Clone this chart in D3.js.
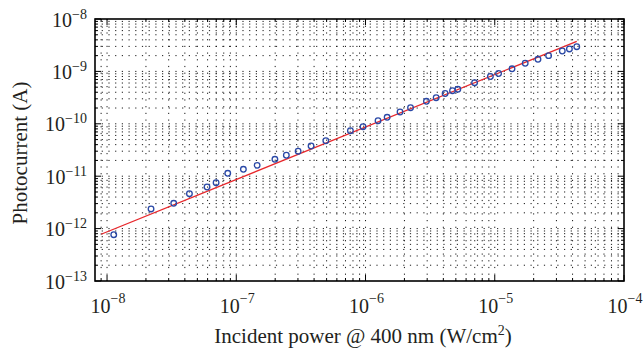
<!DOCTYPE html>
<html><head><meta charset="utf-8">
<script src="https://cdn.jsdelivr.net/npm/d3@7"></script>
<style>body{margin:0;background:#fff}svg{display:block}text{font-family:"Liberation Serif","Times New Roman",serif;fill:#231f20}</style>
</head><body><svg id="c" width="643" height="351"></svg>
<script>
// Data
const powerW = [1.127e-8,2.19e-8,3.28e-8,4.34e-8,5.94e-8,6.98e-8,8.59e-8,1.135e-7,1.45e-7,1.99e-7,2.44e-7,3.01e-7,3.79e-7,4.93e-7,7.64e-7,9.57e-7,1.25e-6,1.47e-6,1.85e-6,2.23e-6,2.96e-6,3.52e-6,4.13e-6,4.71e-6,5.18e-6,6.98e-6,9.25e-6,1.07e-5,1.36e-5,1.72e-5,2.16e-5,2.61e-5,3.33e-5,3.78e-5,4.31e-5];
const currentA = [7.65e-13,2.37e-12,3.04e-12,4.63e-12,6.22e-12,7.52e-12,1.135e-11,1.355e-11,1.61e-11,2.10e-11,2.51e-11,2.99e-11,3.77e-11,4.75e-11,7.38e-11,8.81e-11,1.146e-10,1.33e-10,1.68e-10,2.03e-10,2.69e-10,3.15e-10,3.79e-10,4.28e-10,4.55e-10,6.08e-10,8.0e-10,9.12e-10,1.12e-9,1.43e-9,1.70e-9,2.0e-9,2.45e-9,2.68e-9,2.96e-9];
const fitPower = [9.0e-9, 4.31e-5];
const fitCurrent = [7.8e-13, 3.75e-9];
const xTickExps = [-8,-7,-6,-5,-4];
const yTickExps = [-13,-12,-11,-10,-9,-8];
const xDomain = [8.07e-9, 1e-4];
const yDomain = [1e-13, 1e-8];

const L=95,R=624,T=19,B=281;
const svg=d3.select("#c");
const x=d3.scaleLog().domain(xDomain).range([L,R]);
const y=d3.scaleLog().domain(yDomain).range([B,T]);

function logTicks(dom){
  const out=[];
  const lo=Math.floor(Math.log10(dom[0])), hi=Math.ceil(Math.log10(dom[1]));
  for(let e=lo;e<=hi;e++) for(let m=1;m<=9;m++){
    const v=m*Math.pow(10,e);
    if(v>=dom[0]*0.9999 && v<=dom[1]*1.0001) out.push({v,major:m===1});
  }
  return out;
}
const xt=logTicks(xDomain), yt=logTicks(yDomain);

// grid (dotted)
const g=svg.append("g").attr("stroke","#000").attr("stroke-width",0.9).attr("stroke-dasharray","1.2,5.5");
g.selectAll("line.vx").data(xt.filter(d=>x(d.v)>L+1&&x(d.v)<R-1)).join("line")
 .attr("x1",d=>x(d.v)).attr("x2",d=>x(d.v)).attr("y1",T).attr("y2",B);
g.selectAll("line.hy").data(yt.filter(d=>y(d.v)>T+1&&y(d.v)<B-1)).join("line")
 .attr("y1",d=>y(d.v)).attr("y2",d=>y(d.v)).attr("x1",L).attr("x2",R);

// ticks inside, all sides
const tk=svg.append("g").attr("stroke","#000").attr("stroke-width",1);
xt.forEach(d=>{const len=d.major?6:3;const px=x(d.v);
  tk.append("line").attr("x1",px).attr("x2",px).attr("y1",B).attr("y2",B-len);
  tk.append("line").attr("x1",px).attr("x2",px).attr("y1",T).attr("y2",T+len);});
yt.forEach(d=>{const len=d.major?6:3;const py=y(d.v);
  tk.append("line").attr("y1",py).attr("y2",py).attr("x1",L).attr("x2",L+len);
  tk.append("line").attr("y1",py).attr("y2",py).attr("x1",R).attr("x2",R-len);});

// frame
svg.append("rect").attr("x",L).attr("y",T).attr("width",R-L).attr("height",B-T)
 .attr("fill","none").attr("stroke","#000").attr("stroke-width",1.6);

// fit line
svg.append("path").datum(fitPower.map((p,i)=>[p,fitCurrent[i]]))
 .attr("d",d3.line().x(d=>x(d[0])).y(d=>y(d[1])))
 .attr("stroke","#e8282c").attr("stroke-width",1.3).attr("fill","none");

// points
svg.append("g").selectAll("circle").data(powerW.map((p,i)=>[p,currentA[i]])).join("circle")
 .attr("cx",d=>x(d[0])).attr("cy",d=>y(d[1])).attr("r",2.8)
 .attr("fill","none").attr("stroke","#2a48a6").attr("stroke-width",1.3);

// tick labels
xTickExps.forEach(e=>{
  const t=svg.append("text").attr("x",x(Math.pow(10,e))+1).attr("y",B+32).attr("text-anchor","middle").attr("font-size",20);
  t.append("tspan").text("10");
  t.append("tspan").attr("font-size",14).attr("dy",-10).text("\u2212"+(-e));
});
yTickExps.forEach(e=>{
  const t=svg.append("text").attr("x",87).attr("y",y(Math.pow(10,e))+7.5).attr("text-anchor","end").attr("font-size",20);
  t.append("tspan").text("10");
  t.append("tspan").attr("font-size",14).attr("dy",-8).text("\u2212"+(-e));
});

// axis titles
const xt1=svg.append("text").attr("x",363).attr("y",343).attr("text-anchor","middle").attr("font-size",21);
xt1.append("tspan").text("Incident power @ 400 nm (W/cm");
xt1.append("tspan").attr("font-size",14).attr("dy",-8).text("2");
xt1.append("tspan").attr("dy",8).text(")");
svg.append("text").attr("transform","translate(27,153) rotate(-90)").attr("text-anchor","middle").attr("font-size",21).text("Photocurrent (A)");
</script></body></html>
